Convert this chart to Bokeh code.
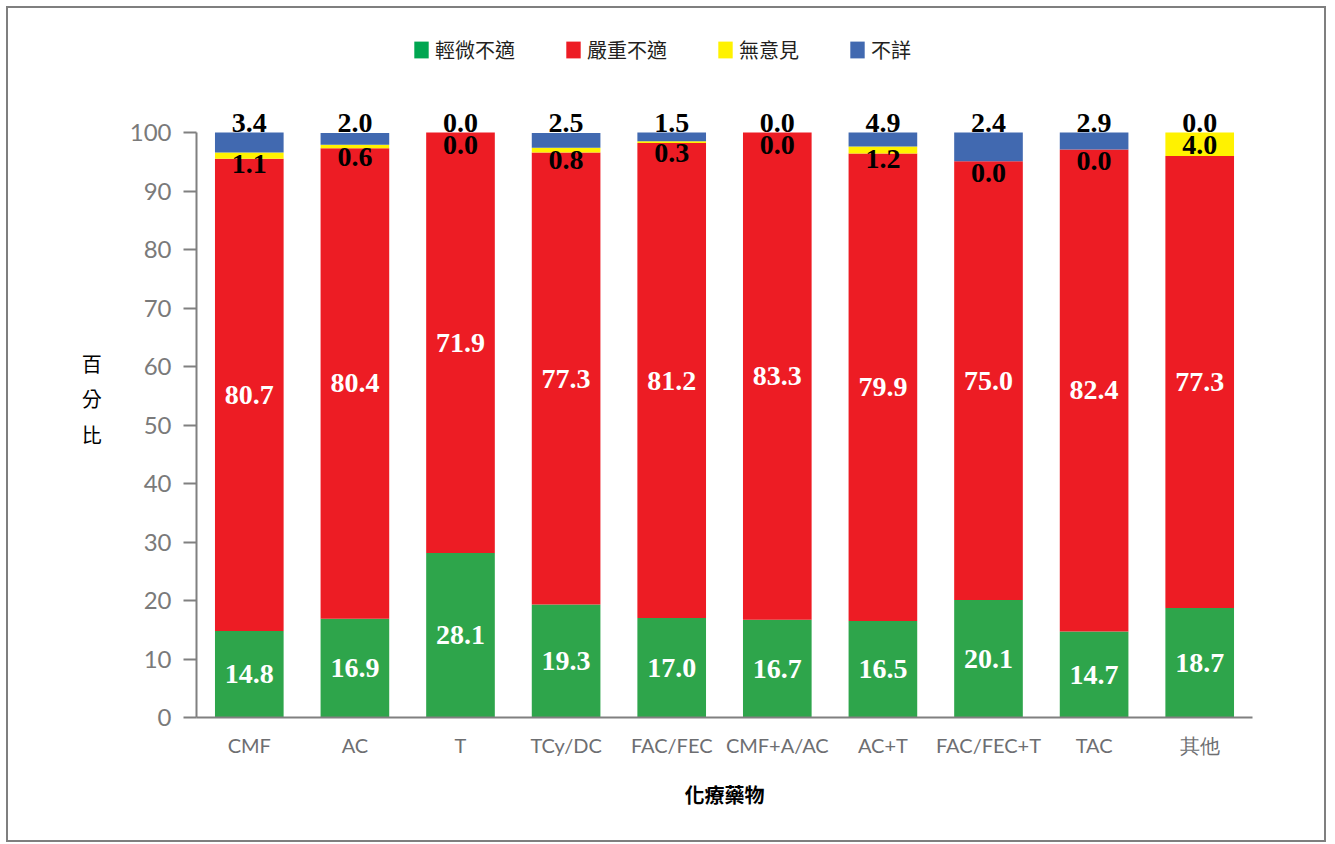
from bokeh.plotting import figure
from bokeh.models import (ColumnDataSource, FactorRange, Range1d, Legend, LegendItem,
                          FixedTicker)
from bokeh.core.properties import value
from bokeh.embed import file_html
from bokeh.resources import INLINE

categories = ["CMF", "AC", "T", "TCy/DC", "FAC/FEC", "CMF+A/AC", "AC+T", "FAC/FEC+T", "TAC", "其他"]
mild = [14.8, 16.9, 28.1, 19.3, 17.0, 16.7, 16.5, 20.1, 14.7, 18.7]
severe = [80.7, 80.4, 71.9, 77.3, 81.2, 83.3, 79.9, 75.0, 82.4, 77.3]
no_opinion = [1.1, 0.6, 0.0, 0.8, 0.3, 0.0, 1.2, 0.0, 0.0, 4.0]
unknown = [3.4, 2.0, 0.0, 2.5, 1.5, 0.0, 2.4, 4.9, 2.9, 0.0]
# labels as printed on the chart (the two blue labels of AC+T and FAC/FEC+T appear swapped)
unknown_labels = ["3.4", "2.0", "0.0", "2.5", "1.5", "0.0", "4.9", "2.4", "2.9", "0.0"]
series_names = ["輕微不適", "嚴重不適", "無意見", "不詳"]
y_ticks = [0, 10, 20, 30, 40, 50, 60, 70, 80, 90, 100]

bar_colors = ["#2ea54b", "#ed1c24", "#fff200", "#4169b0"]
legend_colors = ["#00a651", "#ed1c24", "#fff200", "#4169b0"]

W, H = 1320, 836
p = figure(width=W, height=H, output_backend="svg", toolbar_location=None,
           x_range=FactorRange(*categories, range_padding=0),
           y_range=Range1d(0, 121.2),
           min_border_left=188, min_border_right=76, min_border_top=0, min_border_bottom=127,
           tools="")
p.styles = {"border": "2px solid #7f7f7f"}
p.margin = (6, 0, 0, 6)
p.outline_line_color = None
p.xgrid.grid_line_color = None
p.ygrid.grid_line_color = None
p.background_fill_color = "white"
p.border_fill_color = "white"

# stacks
b0 = [0.0] * len(categories)
t0 = [b + v for b, v in zip(b0, mild)]
t1 = [b + v for b, v in zip(t0, severe)]
t2 = [b + v for b, v in zip(t1, no_opinion)]
t3 = [b + v for b, v in zip(t2, unknown)]

src = ColumnDataSource(dict(
    x=categories, b0=b0, t0=t0, t1=t1, t2=t2, t3=t3,
    mild_lab=[f"{v:.1f}" for v in mild],
    sev_lab=[f"{v:.1f}" for v in severe],
    no_lab=[f"{v:.1f}" for v in no_opinion],
    unk_lab=unknown_labels,
    mild_mid=[(a + b) / 2 for a, b in zip(b0, t0)],
    sev_mid=[(a + b) / 2 for a, b in zip(t0, t1)],
))

bw = 0.65
p.vbar(x="x", bottom="b0", top="t0", width=bw, source=src, fill_color=bar_colors[0], line_color=None)
p.vbar(x="x", bottom="t0", top="t1", width=bw, source=src, fill_color=bar_colors[1], line_color=None)
p.vbar(x="x", bottom="t1", top="t2", width=bw, source=src, fill_color=bar_colors[2], line_color=None)
p.vbar(x="x", bottom="t2", top="t3", width=bw, source=src, fill_color=bar_colors[3], line_color=None)

lab_font = value("Liberation Serif")
common = dict(source=src, text_font=lab_font, text_font_style="bold", text_font_size="28px",
              text_align="center", text_baseline="middle")
p.text(x="x", y="mild_mid", text="mild_lab", text_color="white", **common)
p.text(x="x", y="sev_mid", text="sev_lab", text_color="white", **common)
p.text(x="x", y="t2", text="no_lab", text_color="black", y_offset=12, **common)
p.text(x="x", y="t3", text="unk_lab", text_color="black", y_offset=-10, **common)

# legend (zero-height renderers used only for the legend swatches)
items = []
for name, col in zip(series_names, legend_colors):
    r = p.vbar(x=[categories[0]], bottom=[0], top=[0], width=0.5, fill_color=col, line_color=None)
    items.append(LegendItem(label=name, renderers=[r]))
legend = Legend(items=items, orientation="horizontal", location=(216, 653),
                border_line_color=None, background_fill_alpha=0,
                label_text_font="Noto Sans CJK TC", label_text_font_size="20px",
                label_text_color="#231f20", glyph_width=18, glyph_height=21,
                label_standoff=5, spacing=49, padding=6, margin=0)
p.add_layout(legend)

# axes
ax = p.yaxis[0]
ax.bounds = (0, 100)
ax.ticker = FixedTicker(ticks=y_ticks)
ax.axis_line_color = "#808080"
ax.axis_line_width = 2
ax.major_tick_line_color = "#808080"
ax.major_tick_line_width = 2
ax.major_tick_out = 13
ax.major_tick_in = 0
ax.minor_tick_line_color = None
ax.major_label_text_font = "Lato"
ax.major_label_text_font_size = "24px"
ax.major_label_text_color = "#7a7a7a"
ax.major_label_standoff = 12
ax.axis_label = "\n\n百\n分\n比"
if "axis_label_orientation" in ax.properties():
    ax.axis_label_orientation = "horizontal"
ax.axis_label_text_font = "Noto Sans CJK TC"
ax.axis_label_text_font_size = "20px"
ax.axis_label_text_color = "black"
ax.axis_label_text_font_style = "normal"
ax.axis_label_text_line_height = 1.225
ax.axis_label_standoff = 25

xa = p.xaxis[0]
xa.axis_line_color = "#808080"
xa.axis_line_width = 2
xa.major_tick_line_color = None
xa.minor_tick_line_color = None
xa.major_label_text_font = "Lato"
xa.major_label_text_font_size = "20px"
xa.major_label_text_color = "#6d6e71"
xa.major_label_standoff = 9
xa.axis_label = "化療藥物"
xa.axis_label_text_font = "Noto Sans CJK TC"
xa.axis_label_text_font_style = "bold"
xa.axis_label_text_font_size = "20px"
xa.axis_label_text_color = "black"
xa.axis_label_standoff = 20

open("out.html", "w").write(file_html(p, INLINE))
